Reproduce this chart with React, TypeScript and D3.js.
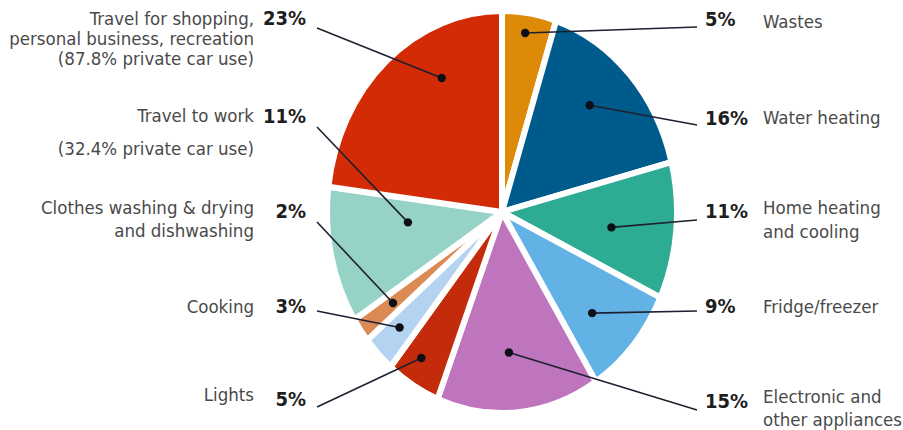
import React from "react";
import * as d3 from "d3";

// ---- data ----
const categories = [
  "Wastes",
  "Water heating",
  "Home heating and cooling",
  "Fridge/freezer",
  "Electronic and other appliances",
  "Lights",
  "Cooking",
  "Clothes washing & drying and dishwashing",
  "Travel to work",
  "Travel for shopping, personal business, recreation",
];
const values = [5, 16, 11, 9, 15, 5, 3, 2, 11, 23];
const labelLines = [
  ["Wastes"],
  ["Water heating"],
  ["Home heating", "and cooling"],
  ["Fridge/freezer"],
  ["Electronic and", "other appliances"],
  ["Lights"],
  ["Cooking"],
  ["Clothes washing & drying", "and dishwashing"],
  ["Travel to work", "(32.4% private car use)"],
  ["Travel for shopping,", "personal business, recreation", "(87.8% private car use)"],
];
const colors = [
  "#DD8A08",
  "#005B8D",
  "#2EAC93",
  "#63B2E5",
  "#BE75BE",
  "#C42B0B",
  "#B3D3F0",
  "#DB8A56",
  "#96D3C6",
  "#D32B06",
];

// ---- layout ----
const W = 903;
const H = 430;
const cx = 502;
const cy = 212;
const R = 175;
const sy = 201 / 175;
const side = ["R", "R", "R", "R", "R", "L", "L", "L", "L", "L"];
const labelBaselines = [[28], [124], [214, 238], [313], [403, 426], [401], [313], [214, 237], [122, 155], [25, 45, 65]];
const pctBaseline = [26, 125, 218, 313, 408, 406, 313, 218, 123, 25];
const leaderEndY = [27, 125, 220, 311, 410, 407, 311, 222, 127, 28];
const dotT = [0.47, 0.44, 0.54, 0.59, 0.54, 0.6, 0.55, 0.5, 0.68, 0.67];
const dotR = [0.9, 0.73, 0.63, 0.72, 0.7, 0.86, 0.82, 0.77, 0.54, 0.75];

export default function App() {
  const pie = d3.pie<number>().sort(null).value((d) => d)(values);
  const arc = d3.arc<d3.PieArcDatum<number>>().innerRadius(0).outerRadius(R);
  const font = "'DejaVu Sans Condensed', 'DejaVu Sans', sans-serif";

  return (
    <svg
      width={W}
      height={H}
      style={{ position: "absolute", left: 0, top: 0, background: "#fff" }}
    >
      <rect width={W} height={H} fill="#fff" />
      <g transform={`translate(${cx},${cy}) scale(1,${sy})`}>
        {pie.map((p, i) => (
          <path
            key={categories[i]}
            d={arc(p) || ""}
            fill={colors[i]}
            stroke="#fff"
            strokeWidth={6}
            vectorEffect="non-scaling-stroke"
            strokeLinejoin="miter"
          />
        ))}
      </g>
      {pie.map((p, i) => {
        const a = p.startAngle + dotT[i] * (p.endAngle - p.startAngle);
        const r = dotR[i] * R;
        const dx = cx + r * Math.sin(a);
        const dy = cy - r * Math.cos(a) * sy;
        const ex = side[i] === "R" ? 697 : 317;
        const ey = leaderEndY[i];
        return (
          <g key={"lead" + i}>
            <line x1={dx} y1={dy} x2={ex} y2={ey} stroke="#1d2030" strokeWidth={1.6} />
            <circle cx={dx} cy={dy} r={4.2} fill="#0d0f18" />
          </g>
        );
      })}
      {values.map((v, i) => {
        const right = side[i] === "R";
        const px = right ? 705 : 306;
        const lx = right ? 763 : 254;
        return (
          <g key={"lab" + i}>
            <text
              x={px}
              y={pctBaseline[i]}
              textAnchor={right ? "start" : "end"}
              fontFamily={font}
              fontWeight="bold"
              fontSize={20}
              fill="#1e1e1e"
            >
              {v + "%"}
            </text>
            {labelLines[i].map((t, j) => (
              <text
                key={j}
                x={lx}
                y={labelBaselines[i][j]}
                textAnchor={right ? "start" : "end"}
                fontFamily={font}
                fontSize={18.5}
                fill="#4a4a4a"
              >
                {t}
              </text>
            ))}
          </g>
        );
      })}
    </svg>
  );
}
